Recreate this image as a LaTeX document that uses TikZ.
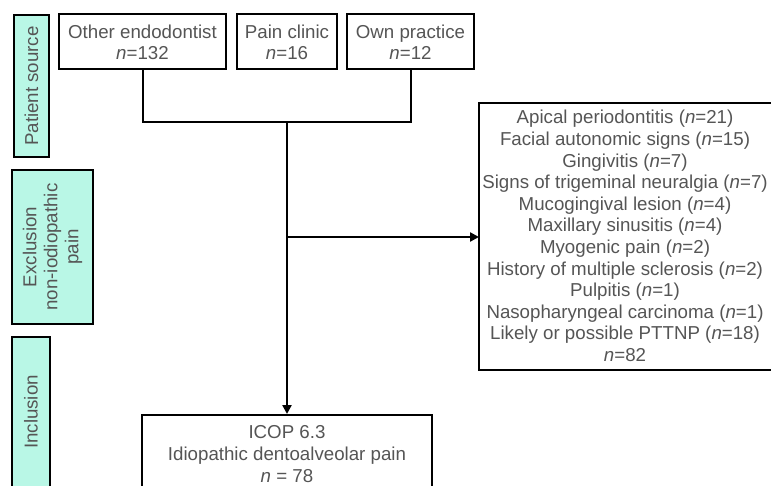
\documentclass[tikz,border=0pt]{standalone}
\usepackage{fontspec}
\setmainfont{Liberation Sans}
\usetikzlibrary{arrows.meta}
\definecolor{txt}{HTML}{555555}
\definecolor{aqua}{HTML}{B9F7E6}
\begin{document}
\begin{tikzpicture}[x=1pt,y=-1pt,
  box/.style={draw=black,line width=2.2pt,fill=white},
  side/.style={draw=black,line width=2.2pt,fill=aqua},
  lbl/.style={text=txt,font=\fontsize{18.7}{21}\selectfont,align=center,inner sep=0pt},
  conn/.style={line width=2.8pt,black},
  arr/.style={conn,-{Triangle[length=9pt,width=9pt]}}]
\useasboundingbox (0,0) rectangle (771,485);
\clip (0,0) rectangle (771,485);
% side labels
\draw[side] (14,15) rectangle (49,157);
\node[lbl,rotate=90] (ps) at (31.5,86) {Patient source};
\draw[side] (12,170) rectangle (93,324);
\node[lbl,rotate=90] (ex) at (52.5,247) {Exclusion\\non-iodiopathic\\pain};
\draw[side] (12,337) rectangle (50,500);
\node[lbl,rotate=90] (in) at (31,412) {Inclusion};
% source boxes
\draw[box] (59,14) rectangle (226,69);
\node[lbl] (oe) at (142.5,42) {Other endodontist\\\textit{n}=132};
\draw[box] (237,14) rectangle (337,69);
\node[lbl] (pc) at (287,42) {Pain clinic\\\textit{n}=16};
\draw[box] (347,14) rectangle (474,69);
\node[lbl] (op) at (410.5,42) {Own practice\\\textit{n}=12};
\coordinate (oeb) at (143,69);
\coordinate (opb) at (411,69);
\coordinate (j) at (287,122);
\coordinate (br) at (287,237);
% exclusion box
\draw[box] (479,103) rectangle (772,370);
\node[lbl,font=\fontsize{18.7}{21.6}\selectfont] (exc) at (625,236) {Apical periodontitis (\textit{n}=21)\\
Facial autonomic signs (\textit{n}=15)\\
Gingivitis (\textit{n}=7)\\
Signs of trigeminal neuralgia (\textit{n}=7)\\
Mucogingival lesion (\textit{n}=4)\\
Maxillary sinusitis (\textit{n}=4)\\
Myogenic pain (\textit{n}=2)\\
History of multiple sclerosis (\textit{n}=2)\\
Pulpitis (\textit{n}=1)\\
Nasopharyngeal carcinoma (\textit{n}=1)\\
Likely or possible PTTNP (\textit{n}=18)\\
\textit{n}=82};
\coordinate (excl) at (479,237);
% inclusion box
\draw[box] (142,415) rectangle (432,500);
\node[lbl,font=\fontsize{18.7}{22}\selectfont] (icop) at (287,454) {ICOP 6.3\\Idiopathic dentoalveolar pain\\\textit{n} = 78};
\coordinate (icopt) at (287,414);
% connectors
\draw[conn] (oeb) |- (j) -| (opb);
\draw[arr] (j) -- (icopt);
\draw[arr] (br) -- (excl);
\end{tikzpicture}
\end{document}
